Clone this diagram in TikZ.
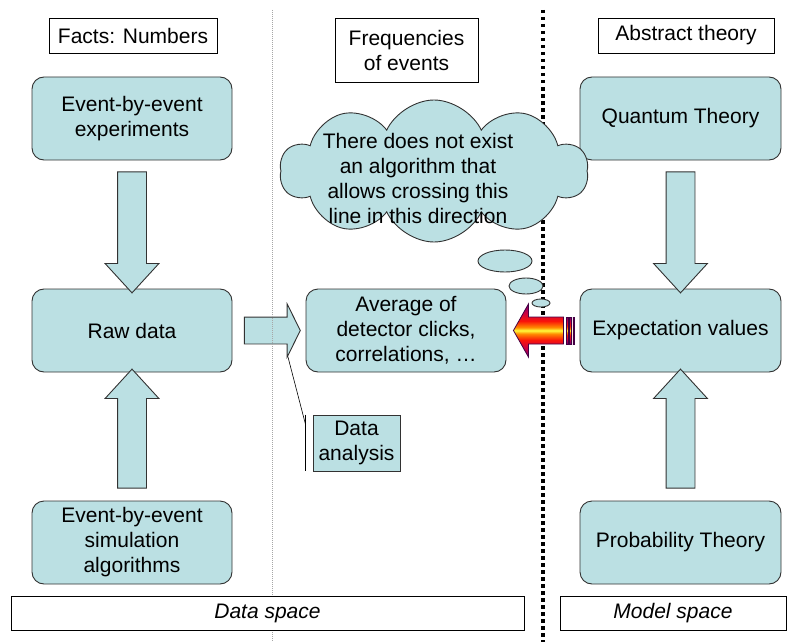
\documentclass[tikz,border=0pt]{standalone}
\usepackage{fontspec}
\setmainfont{Liberation Sans}
\usetikzlibrary{shapes.arrows,shapes.symbols,shapes.geometric,calc}
\definecolor{boxcyan}{RGB}{187,224,227}
\definecolor{boxline}{RGB}{50,50,50}
\definecolor{fpurple}{RGB}{112,0,112}
\definecolor{fmagenta}{RGB}{200,0,70}
\definecolor{fred}{RGB}{250,20,10}
\definecolor{forange}{RGB}{255,140,0}
\definecolor{fyellow}{RGB}{255,250,60}
\pgfdeclareverticalshading{fire}{100bp}{color(0bp)=(fpurple); color(25bp)=(fpurple); color(33bp)=(fmagenta); color(41bp)=(fred); color(47bp)=(forange); color(50bp)=(fyellow); color(53bp)=(forange); color(59bp)=(fred); color(67bp)=(fmagenta); color(75bp)=(fpurple); color(100bp)=(fpurple)}
\begin{document}
\begin{tikzpicture}[x=1pt, y=-1pt,
  every node/.style={font=\fontsize{21}{25}\selectfont},
  stage/.style={draw=boxline, fill=boxcyan, rounded corners=12pt, line width=0.9pt, minimum width=200pt, minimum height=83pt, align=center, inner sep=0pt},
  tag/.style={draw, fill=white, line width=0.8pt, align=center, inner sep=0pt},
  fat/.style={single arrow, draw=boxline, fill=boxcyan, line width=0.9pt, inner xsep=0pt, single arrow head indent=0pt},
  vfat/.style={fat, inner ysep=14pt, single arrow head extend=12.5pt, single arrow tip angle=85, minimum height=121pt},
  bubble/.style={ellipse, draw=boxline, fill=boxcyan, line width=0.9pt, inner sep=0pt},
  hot/.style={draw=fpurple!60!black, line width=0.8pt, shading=fire}]
\useasboundingbox (0,0) rectangle (790,642);
% model / data border
\draw[line width=3.5pt, dash pattern=on 3.5pt off 3.5pt] (543,10) -- (543,642);

\node[tag, minimum width=168pt, minimum height=35pt] (facts) at (133,35.5) {Facts: Numbers};
\node[tag, minimum width=143pt, minimum height=64pt] (freq) at (406.5,50) {Frequencies\\of events};
\node[tag, minimum width=176pt, minimum height=35pt] (abstr) at (686,35.5) {Abstract theory};

\node[stage] (exp) at (132,118.5) {Event-by-event\\experiments};
\node[stage] (raw) at (132,330.5) {Raw data};
\node[stage] (sim) at (132,542.5) {Event-by-event\\simulation\\algorithms};
\node[stage] (avg) at (406,330.5) {Average of\\detector clicks,\\correlations, …};
\node[stage, minimum width=201pt] (qt) at (680.5,118.5) {Quantum Theory};
\node[stage, minimum width=201pt] (expv) at (680.5,330.5) {Expectation values};
\node[stage, minimum width=201pt] (pt) at (680.5,542.5) {Probability Theory};

\node[vfat, rotate=-90] (a1) at ($(exp.south)!0.5!(raw.north)$) {};
\node[vfat, rotate=90, minimum height=119pt] (a2) at ($(sim.north)!0.5!(raw.south)$) {};
\node[vfat, rotate=-90] (a3) at ($(qt.south)!0.5!(expv.north)$) {};
\node[vfat, rotate=90, minimum height=119pt] (a4) at ($(pt.north)!0.5!(expv.south)$) {};
\node[fat, inner ysep=13pt, single arrow head extend=13pt, single arrow tip angle=127, minimum height=56pt] (a5) at ($(raw.east)!0.5!(avg.west)$) {};

% facts / frequencies border
\draw[gray!70, line width=0.8pt, dash pattern=on 1pt off 1pt] (272,10) -- (272,642);

\node[tag, minimum width=513pt, minimum height=34pt, font=\fontsize{21}{25}\selectfont\itshape] (dspace) at (267.5,613) {Data space};
\node[tag, minimum width=226pt, minimum height=34pt, font=\fontsize{21}{25}\selectfont\itshape] (mspace) at (673,613) {Model space};

% thought cloud
\node[cloud, cloud puffs=10, cloud puff arc=130, aspect=2.2, draw=boxline, fill=boxcyan, line width=0.9pt, minimum width=308pt, minimum height=142pt, inner sep=0pt] (cloud) at (434,171) {};
\node[align=center] (cloudtxt) at (418,178) {There does not exist\\an algorithm that\\allows crossing this\\line in this direction};
\node[bubble, minimum width=54pt, minimum height=22pt] (b1) at (505,261) {};
\node[bubble, minimum width=34pt, minimum height=16pt] (b2) at (526,286) {};
\node[bubble, minimum width=18pt, minimum height=8pt] (b3) at (541,303) {};

% striped arrow
\coordinate (tip) at ($(avg.east)+(7,0)$);
\draw[hot] (tip) -- ++(15,-26.5) -- ++(0,13) -- ++(35,0) -- ++(0,27) -- ++(-35,0) -- ++(0,13) -- cycle;
\foreach \sx/\sw in {53/1.5, 56/2, 59.5/1.5}
  \draw[hot] ($(tip)+(\sx,-13.5)$) rectangle ++(\sw,27);

% callout
\node[draw=boxline, fill=boxcyan, line width=0.9pt, minimum width=87pt, minimum height=56pt, inner sep=0pt, align=center] (ana) at (356.5,443) {Data\\analysis};
\coordinate (bar) at ($(ana.north west)+(-7,0)$);
\draw[line width=0.8pt] (bar) -- ($(ana.south west)+(-7,0)$);
\draw[line width=0.6pt] ($(bar)+(0,10)$) -- ($(a5.tip)+(-13,26)$);
\end{tikzpicture}
\end{document}
